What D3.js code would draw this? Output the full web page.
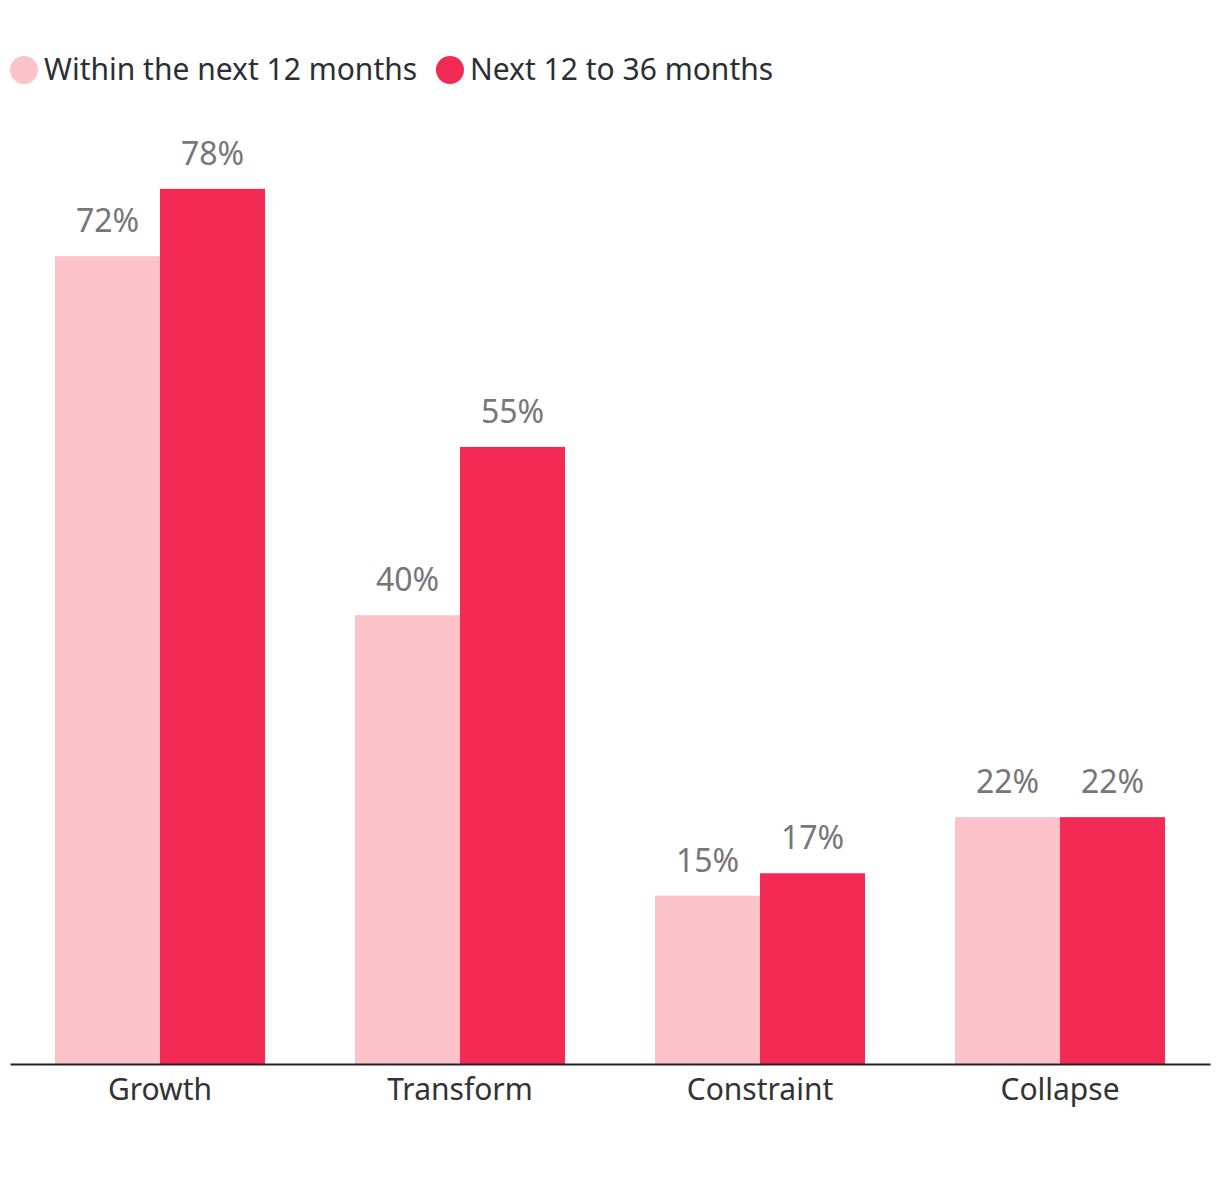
<!DOCTYPE html>
<html><head><meta charset="utf-8">
<script src="https://cdn.jsdelivr.net/npm/d3@7"></script>
<style>body{margin:0;background:#fff}svg{display:block}text{font-family:"Noto Sans",sans-serif}</style>
</head><body><svg id="c" width="1220" height="1192"></svg>
<script>
const categories = ["Growth","Transform","Constraint","Collapse"];
const seriesNames = ["Within the next 12 months","Next 12 to 36 months"];
const within12 = [72,40,15,22];
const next12to36 = [78,55,17,22];
const colors = ["#fdc3ca","#f32a53"];

const svg = d3.select("#c");
const baseY = 1064;
const x = d3.scaleBand().domain(categories).range([10,1210]).paddingInner(0.3).paddingOuter(0.15);
const xs = d3.scaleBand().domain([0,1]).range([0,x.bandwidth()]);
const y = d3.scaleLinear().domain([0,80]).range([baseY, baseY-80*11.22]);

const series = [within12, next12to36];
series.forEach((vals,si)=>{
  const g = svg.append("g");
  g.selectAll("rect").data(vals).join("rect")
    .attr("x",(d,i)=>x(categories[i])+xs(si))
    .attr("y",d=>y(d))
    .attr("width",xs.bandwidth())
    .attr("height",d=>baseY-y(d))
    .attr("fill",colors[si]);
  g.selectAll("text").data(vals).join("text")
    .attr("x",(d,i)=>x(categories[i])+xs(si)+xs.bandwidth()/2)
    .attr("y",d=>y(d)-24)
    .attr("text-anchor","middle")
    .attr("font-size",32).attr("fill","#777")
    .text(d=>d+"%");
});

const ax = svg.append("g").attr("transform",`translate(0,${baseY})`)
  .call(d3.axisBottom(x).tickSize(0).tickPadding(15));
ax.select(".domain").attr("stroke","#222").attr("stroke-width",2);
ax.selectAll("text").attr("font-size",30).attr("fill","#333").attr("font-family",'"Noto Sans",sans-serif');

const leg = svg.append("g");
const legX = [24,450];
seriesNames.forEach((n,i)=>{
  leg.append("circle").attr("cx",legX[i]).attr("cy",70).attr("r",14).attr("fill",colors[i]);
  leg.append("text").attr("x",legX[i]+20).attr("y",80).attr("font-size",30).attr("fill","#2b2f33").text(n);
});
</script></body></html>
